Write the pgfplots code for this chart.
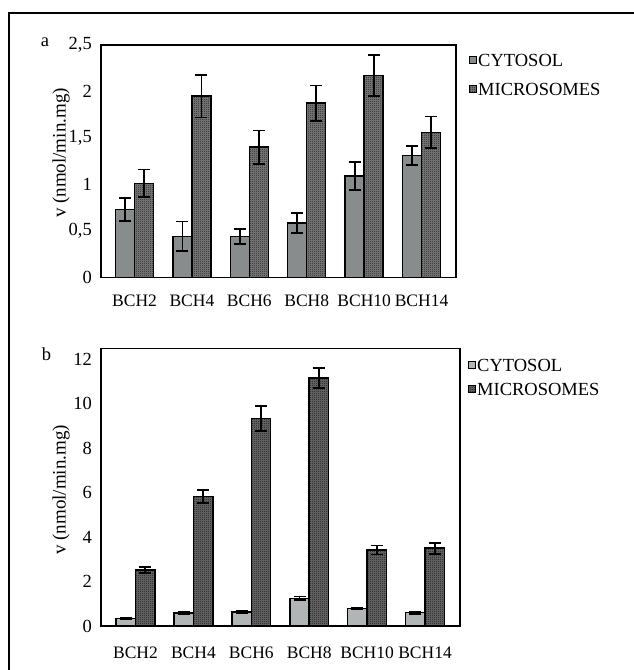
\documentclass[border=0pt]{standalone}
\usepackage{fontspec}
\setmainfont{Liberation Serif}
\usepackage{pgfplots}
\pgfplotsset{compat=1.18}
\usetikzlibrary{patterns}
\definecolor{cytA}{HTML}{888C8C}
\definecolor{cytB}{HTML}{B2B5B5}
\definecolor{micA}{HTML}{7C7C7C}
\definecolor{micAdot}{HTML}{222222}
\definecolor{micB}{HTML}{6A6A6A}
\definecolor{micBdot}{HTML}{1A1A1A}
\pgfdeclarepatternformonly{finechecker}{\pgfqpoint{0pt}{0pt}}{\pgfqpoint{2pt}{2pt}}{\pgfqpoint{2pt}{2pt}}{%
  \pgfpathrectangle{\pgfqpoint{0pt}{0pt}}{\pgfqpoint{1pt}{1pt}}%
  \pgfpathrectangle{\pgfqpoint{1pt}{1pt}}{\pgfqpoint{1pt}{1pt}}%
  \pgfusepath{fill}}
\pgfplotsset{
  mybase/.style={
    scale only axis, anchor=south west,
    ybar=0pt,
    axis line style={line width=1.4pt},
    xtick={0,...,5}, xticklabels={BCH2,BCH4,BCH6,BCH8,BCH10,BCH14},
    major tick length=0pt,
    /pgf/number format/assume math mode=true,
    yticklabel style={anchor=east, inner sep=0pt, xshift=-9pt},
    xticklabel style={anchor=base, inner sep=0pt, font=\fontsize{17.5}{20}\selectfont},
    ymin=0,
    ylabel={\fontsize{19}{21}\selectfont v (nmol/min.mg)},
    legend style={draw=none, fill=none, anchor=north west, inner sep=0pt,
      nodes={inner sep=1pt, text height=12pt, text depth=0pt}},
    legend cell align=left,
    error bars/error bar style={line width=1.8pt, black},
    error bars/error mark options={rotate=90, mark size=6pt, line width=1.8pt, black},
  },
  legsq/.style={legend image code/.code={\draw[##1, line width=1pt] (0pt,-3.5pt) rectangle (7pt,3.5pt);}},
}
\begin{document}
\fontsize{18.5}{21}\selectfont
\begin{tikzpicture}
\useasboundingbox (0pt,0pt) rectangle (634pt,670pt);
\draw[line width=2pt] (9.3pt,0pt) -- (9.3pt,658pt);
\draw[line width=2pt] (8.3pt,657pt) -- (634pt,657pt);
\node[anchor=base, inner sep=0pt] at (45pt,623pt) {a};
\node[anchor=base, inner sep=0pt] at (46.5pt,309.5pt) {b};

\begin{axis}[mybase,
  at={(101pt,392.7pt)}, width=355pt, height=232.3pt,
  xmin=-0.584, xmax=5.60, ymax=2.5,
  ytick={0,0.5,1,1.5,2,2.5}, yticklabels={0,{0,5},1,{1,5},2,{2,5}},
  bar width=19pt,
  xticklabel style={yshift=-29pt},
  every axis y label/.style={at={(rel axis cs:-0.1127,0.535)}, rotate=90, anchor=center},
  legend style={at={(rel axis cs:1,1)}, xshift=13pt, yshift=-8pt, row sep=15pt},
]
\addplot[fill=cytA, draw=black, line width=1.5pt, legsq,
  error bars/.cd, y dir=both, y explicit]
  coordinates {(0,0.73) +- (0,0.12) (1,0.44) +- (0,0.16) (2,0.44) +- (0,0.08)
               (3,0.585) +- (0,0.11) (4,1.09) +- (0,0.15) (5,1.31) +- (0,0.10)};
\addplot[fill=micA, postaction={pattern=finechecker, pattern color=micAdot}, draw=black, line width=1.5pt, legsq,
  error bars/.cd, y dir=both, y explicit]
  coordinates {(0,1.01) +- (0,0.15) (1,1.95) +- (0,0.23) (2,1.40) +- (0,0.18)
               (3,1.875) +- (0,0.19) (4,2.17) +- (0,0.22) (5,1.56) +- (0,0.17)};
\legend{CYTOSOL,MICROSOMES}
\end{axis}

\begin{axis}[mybase,
  at={(101pt,44pt)}, width=359pt, height=277.7pt,
  xmin=-0.596, xmax=5.604, ymax=12.5,
  ytick={0,2,4,6,8,10,12},
  bar width=19.4pt,
  xticklabel style={yshift=-33pt},
  every axis y label/.style={at={(rel axis cs:-0.1114,0.49)}, rotate=90, anchor=center},
  legend style={at={(rel axis cs:1,1)}, xshift=8pt, yshift=-9.7pt, row sep=10pt},
]
\addplot[fill=cytB, draw=black, line width=1.5pt, legsq,
  error bars/.cd, y dir=both, y explicit]
  coordinates {(0,0.345) +- (0,0.03) (1,0.585) +- (0,0.04) (2,0.63) +- (0,0.03)
               (3,1.245) +- (0,0.08) (4,0.78) +- (0,0.04) (5,0.60) +- (0,0.05)};
\addplot[fill=micB, postaction={pattern=finechecker, pattern color=micBdot}, draw=black, line width=1.5pt, legsq,
  error bars/.cd, y dir=both, y explicit]
  coordinates {(0,2.52) +- (0,0.12) (1,5.835) +- (0,0.29) (2,9.33) +- (0,0.56)
               (3,11.16) +- (0,0.45) (4,3.42) +- (0,0.20) (5,3.50) +- (0,0.25)};
\legend{CYTOSOL,MICROSOMES}
\end{axis}
\end{tikzpicture}
\end{document}
